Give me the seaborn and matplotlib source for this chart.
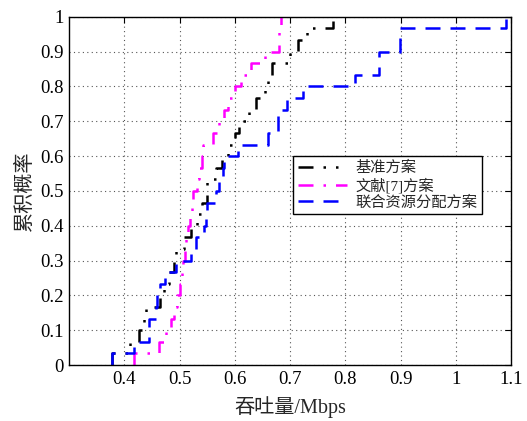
import pandas as pd
import matplotlib
matplotlib.use("Agg")
import matplotlib.pyplot as plt
import seaborn as sns

# Throughput samples (Mbps) per scheme, 30 samples each
schemes = ['基准方案', '文献[7]方案', '联合资源分配方案']
baseline = [0.378, 0.41, 0.426, 0.435, 0.44, 0.465, 0.472, 0.48, 0.49, 0.493,
            0.508, 0.52, 0.532, 0.54, 0.55, 0.55, 0.565, 0.577, 0.587, 0.60,
            0.608, 0.625, 0.639, 0.655, 0.66, 0.667, 0.70, 0.715, 0.73, 0.778]
ref7 = [0.418, 0.463, 0.475, 0.484, 0.49, 0.496, 0.50, 0.505, 0.507, 0.51,
        0.511, 0.515, 0.519, 0.522, 0.525, 0.532, 0.536, 0.54, 0.542, 0.56,
        0.572, 0.58, 0.587, 0.60, 0.611, 0.63, 0.655, 0.679, 0.68, 0.684]
joint = [0.378, 0.418, 0.444, 0.444, 0.458, 0.46, 0.465, 0.473, 0.493, 0.52,
         0.53, 0.544, 0.548, 0.55, 0.565, 0.571, 0.578, 0.58, 0.605, 0.66,
         0.678, 0.678, 0.695, 0.723, 0.817, 0.861, 0.861, 0.898, 0.898, 1.09]
xticks = [0.4, 0.5, 0.6, 0.7, 0.8, 0.9, 1.0, 1.1]
xtick_labels = ['0.4', '0.5', '0.6', '0.7', '0.8', '0.9', '1', '1.1']
yticks = [0, 0.1, 0.2, 0.3, 0.4, 0.5, 0.6, 0.7, 0.8, 0.9, 1.0]
ytick_labels = ['0', '0.1', '0.2', '0.3', '0.4', '0.5', '0.6', '0.7', '0.8', '0.9', '1']

sns.set_style("white")
plt.rcParams['font.family'] = ['Liberation Serif', 'Noto Sans CJK SC', 'DejaVu Sans']
plt.rcParams['axes.unicode_minus'] = False

fig = plt.figure(figsize=(5.27, 4.21), dpi=100)
ax = fig.add_axes([0.131, 0.133, 0.839, 0.827])

styles = [
    (baseline, 'black', (0, (6, 4, 1, 4, 1, 4))),
    (ref7, '#ff00ff', (0, (6, 4, 1, 4))),
    (joint, '#0000ff', (0, (6, 4))),
]
for (vals, color, ls), name in zip(styles, schemes):
    sns.ecdfplot(x=vals, ax=ax, color=color, linestyle=ls, linewidth=1.8, label=name)

ax.set_xlim(0.3, 1.1)
ax.set_ylim(0, 1)
ax.set_xticks(xticks)
ax.set_xticklabels(xtick_labels)
ax.set_yticks(yticks)
ax.set_yticklabels(ytick_labels)
ax.tick_params(direction='in', top=True, right=True, length=4, labelsize=13.5,
               colors='black', pad=4)
ax.grid(True, linestyle=(0, (1, 3)), color='#555555', linewidth=0.8)
for s in ax.spines.values():
    s.set_color('black')
    s.set_linewidth(1.0)

ax.set_xlabel('吞吐量/Mbps', fontsize=14.5, labelpad=6)
ax.set_ylabel('累积概率', fontsize=14.5, labelpad=4)

leg = ax.legend(loc='upper left', bbox_to_anchor=(0.507, 0.60), fontsize=11,
                frameon=True, fancybox=False, framealpha=1, edgecolor='black',
                handlelength=3.2, borderpad=0.3, labelspacing=0.15,
                handletextpad=0.6, borderaxespad=0)
leg.get_frame().set_linewidth(1.0)

fig.savefig('out.png', dpi=100)
